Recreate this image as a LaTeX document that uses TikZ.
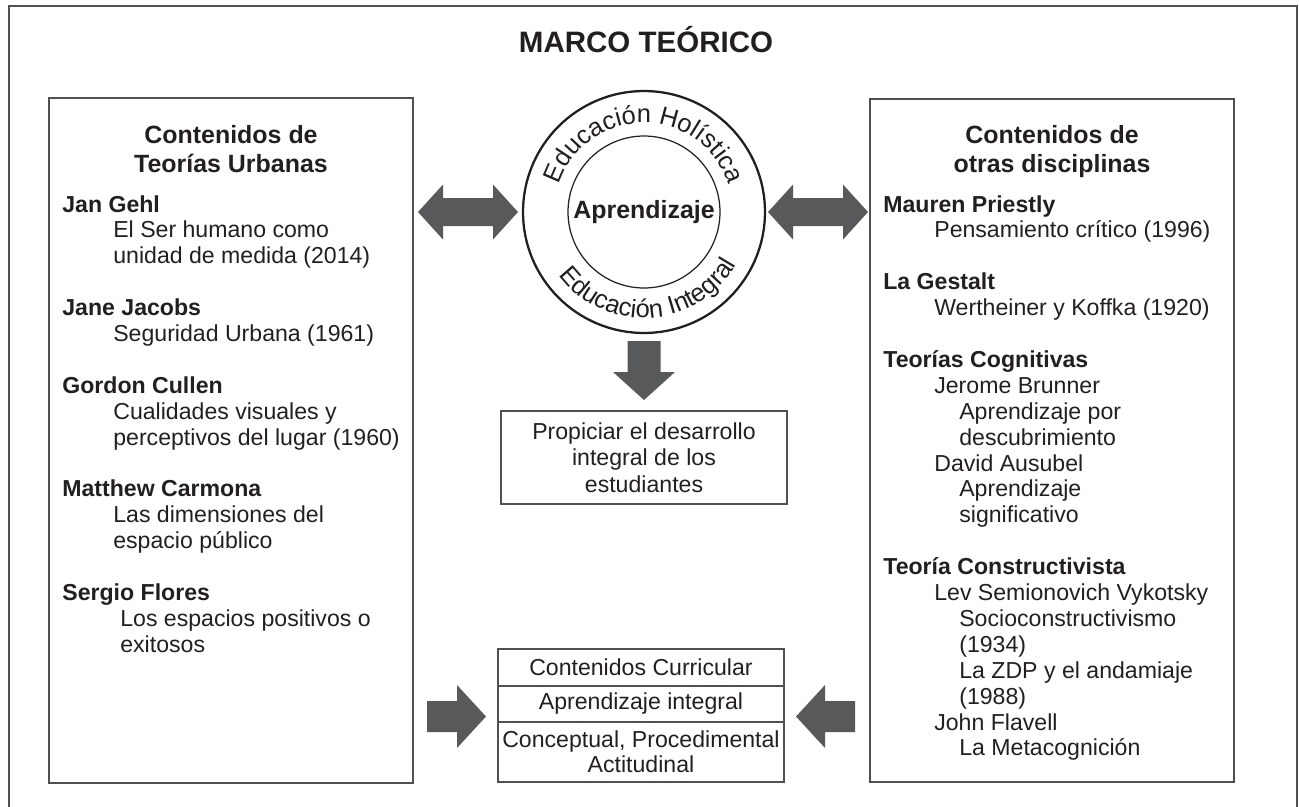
\documentclass[tikz,border=0pt]{standalone}
\usepackage{fontspec}
\setmainfont{Liberation Sans}
\usetikzlibrary{positioning,calc,decorations.text}

\definecolor{ink}{HTML}{231F20}
\definecolor{arrgray}{HTML}{58595B}
\definecolor{linegray}{HTML}{505050}

% one pixel of the layout
\newlength{\pxu}\setlength{\pxu}{0.569pt}
\newcommand{\indA}{\hspace*{51\pxu}}
\newcommand{\indB}{\hspace*{76\pxu}}

\tikzset{
  % multi-line nodes sit on the baseline of their last line
  body/.style={text=ink, font=\fontsize{13.15}{14.74}\selectfont, align=left, anchor=base west, inner sep=0pt},
  head/.style={text=ink, font=\bfseries\fontsize{14.2}{16.5}\selectfont, align=center, anchor=base, inner sep=0pt},
  box/.style={draw=linegray, line width=0.8pt, inner sep=0pt, outer sep=0pt},
  cell/.style={box, text=ink, font=\fontsize{13.15}{14.2}\selectfont, align=center, minimum width=5.72cm},
  bigarrow/.style={fill=arrgray},
}

\begin{document}
\begin{tikzpicture}[x=0.02cm, y=0.02cm]
    \useasboundingbox (0,0) rectangle (1299,-806);

    % outer frame (its bottom edge runs off the page)
    \draw[linegray, line width=0.6pt] (9,-830) -- (9,-6) -- (1297,-6) -- (1297,-830);

    \node[text=ink, font=\bfseries\fontsize{16.8}{19}\selectfont, anchor=base] (title) at (646,-52) {MARCO TEÓRICO};

    % the two side boxes
    \node[box, minimum width=7.28cm, minimum height=13.7cm, anchor=north west] (urb) at (49,-98) {};
    \node[box, minimum width=7.28cm, minimum height=13.66cm, anchor=north west] (otras) at (870,-99) {};

    % left column
    \node[head] (urbH) at (231,-172) {Contenidos de\\Teorías Urbanas};
    \node[body] (gehl) at (62,-263.8) {\textbf{Jan Gehl}\\\indA El Ser humano como\\\indA unidad de medida (2014)};
    \node[body] (jacobs) at (62,-341.5) {\textbf{Jane Jacobs}\\\indA Seguridad Urbana (1961)};
    \node[body] (cullen) at (62,-445.1) {\textbf{Gordon Cullen}\\\indA Cualidades visuales y\\\indA perceptivos del lugar (1960)};
    \node[body] (carmona) at (62,-548.7) {\textbf{Matthew Carmona}\\\indA Las dimensiones del\\\indA espacio público};
    \node[body] (flores) at (62,-652.3) {\textbf{Sergio Flores}\\\hspace*{58\pxu}Los espacios positivos o\\\hspace*{58\pxu}exitosos};

    % right column
    \node[head] (otrasH) at (1052,-172) {Contenidos de\\otras disciplinas};
    \node[body] (priestly) at (883,-237.9) {\textbf{Mauren Priestly}\\\indA Pensamiento crítico (1996)};
    \node[body] (gestalt) at (883,-315.6) {\textbf{La Gestalt}\\\indA Wertheiner y Koffka (1920)};
    \node[body] (cogn) at (883,-522.8) {\textbf{Teorías Cognitivas}\\\indA Jerome Brunner\\\indB Aprendizaje por\\\indB descubrimiento\\\indA David Ausubel\\\indB Aprendizaje\\\indB significativo};
    \node[body] (constr) at (883,-755.9) {\textbf{Teoría Constructivista}\\\indA Lev Semionovich Vykotsky\\\indB Socioconstructivismo\\\indB (1934)\\\indB La ZDP y el andamiaje\\\indB (1988)\\\indA John Flavell\\\indB La Metacognición};

    % centre circle
    \node[circle, draw=ink, line width=1.3pt, minimum size=4.84cm, inner sep=0pt] (holi) at (644,-212) {};
    \node[circle, draw=ink, line width=0.7pt, minimum size=3.04cm, inner sep=0pt, text=ink, font=\bfseries\fontsize{14.2}{16}\selectfont] (apr) at (holi.center) {Aprendizaje};
    \path[decorate, decoration={text along path, text align=center,
        text={|\fontsize{14.5}{17}\selectfont\color{ink}|Educación Holística}}]
        ($(holi.center)+(170:89)$) arc[start angle=170, end angle=10, radius=89];
    \path[decorate, decoration={text along path, text align=center,
        text={|\fontsize{14.5}{17}\selectfont\color{ink}|Educación Integral}}]
        ($(holi.center)+(195:106)$) arc[start angle=195, end angle=352, radius=106];

    % double arrows
    \fill[bigarrow] (418,-212) -- (443,-184.5) -- (443,-198) -- (493,-198) -- (493,-184.5) -- (518,-212)
        -- (493,-239.5) -- (493,-226) -- (443,-226) -- (443,-239.5) -- cycle;
    \fill[bigarrow] (768,-212) -- (793,-184.5) -- (793,-198) -- (843,-198) -- (843,-184.5) -- (868,-212)
        -- (843,-239.5) -- (843,-226) -- (793,-226) -- (793,-239.5) -- cycle;

    % down arrow and goal box
    \fill[bigarrow] (627.5,-341) -- (660.5,-341) -- (660.5,-372) -- (675,-372) -- (644,-400)
        -- (613,-372) -- (627.5,-372) -- cycle;
    \node[box, text=ink, font=\fontsize{13.15}{15.1}\selectfont, align=center, minimum width=5.72cm, minimum height=1.86cm] (prop) at (644,-457.5) {Propiciar el desarrollo\\integral de los\\estudiantes};

    % bottom table
    \node[cell, minimum height=0.74cm, anchor=north west] (row1) at (498,-649) {Contenidos Curricular};
    \node[cell, minimum height=0.72cm, below=0pt of row1] (row2) {Aprendizaje integral};
    \node[cell, minimum height=1.2cm, below=0pt of row2] (row3) {Conceptual, Procedimental\\Actitudinal};

    % arrows into the table
    \fill[bigarrow] (427,-701) -- (457,-701) -- (457,-685) -- (486,-716.5) -- (457,-748) -- (457,-732) -- (427,-732) -- cycle;
    \fill[bigarrow] (855,-701) -- (825,-701) -- (825,-685) -- (796,-716.5) -- (825,-748) -- (825,-732) -- (855,-732) -- cycle;
\end{tikzpicture}
\end{document}
